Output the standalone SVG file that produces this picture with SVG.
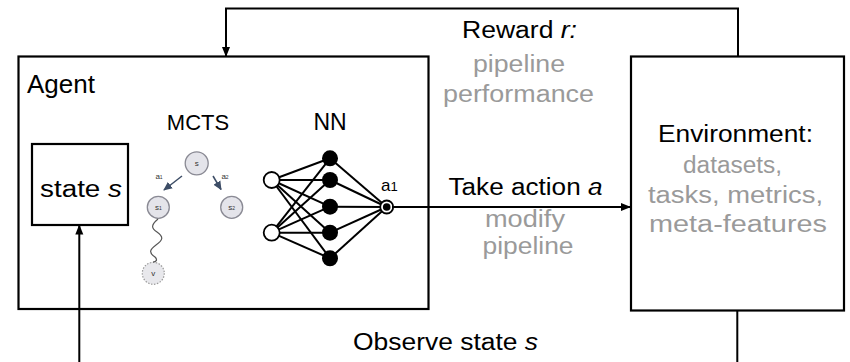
<svg xmlns="http://www.w3.org/2000/svg" width="850" height="362" viewBox="0 0 850 362">
<defs>
<marker id="arr" markerWidth="10" markerHeight="10" refX="9" refY="5" orient="auto" markerUnits="userSpaceOnUse">
<path d="M0,1 L10,5 L0,9 Z" fill="#000"/>
</marker>
<marker id="arrs" markerWidth="9" markerHeight="9" refX="8" refY="4.5" orient="auto" markerUnits="userSpaceOnUse">
<path d="M0,0.5 L9,4.5 L0,8.5 Z" fill="#3d4d66"/>
</marker>
<style>
text{font-family:"Liberation Sans",Arial,Helvetica,sans-serif;fill:#000}
.box{fill:#fff;stroke:#000;stroke-width:2.2}
.lbl{font-size:23px;text-anchor:middle}
.gray{fill:#9a9a9a}
.con{fill:none;stroke:#000;stroke-width:2}
.tn{fill:#e4e4ea;stroke:#8a8a94;stroke-width:1.3}
.tt{font-size:8px;text-anchor:middle;fill:#333}
.nnl{stroke:#000;stroke-width:2}
.hid{fill:#000}
.inp{fill:#fff;stroke:#000;stroke-width:1.8}
</style>
</defs>
<rect width="850" height="362" fill="#fff"/>

<g id="agent">
<rect class="box" x="18.5" y="56.5" width="410" height="252.5"/>
<text x="27" y="93" font-size="25" textLength="68" lengthAdjust="spacingAndGlyphs">Agent</text>
</g>

<g id="state">
<rect class="box" x="32" y="144" width="96" height="81" stroke-width="2.5"/>
<text class="lbl" x="81" y="197" textLength="82" lengthAdjust="spacingAndGlyphs">state <tspan font-style="italic">s</tspan></text>
</g>

<g id="mcts">
<text x="198" y="130" font-size="22" text-anchor="middle">MCTS</text>
<circle class="tn" cx="196.7" cy="163.3" r="11.5"/>
<text class="tt" x="196.7" y="166.3">s</text>
<circle class="tn" cx="158.3" cy="207.3" r="11"/>
<text class="tt" x="158.3" y="210.3">s<tspan font-size="5">1</tspan></text>
<circle class="tn" cx="231.7" cy="207.3" r="11"/>
<text class="tt" x="231.7" y="210.3">s<tspan font-size="5">2</tspan></text>
<circle cx="153.3" cy="273.3" r="11" fill="#e8e8ec" stroke="#9a9a9a" stroke-width="1.2" stroke-dasharray="1.5,1.5"/>
<text class="tt" x="153.3" y="276.3">v</text>
<line x1="182" y1="176" x2="164" y2="190" stroke="#3d4d66" stroke-width="1.5" marker-end="url(#arrs)"/>
<line x1="213" y1="176" x2="221" y2="189.5" stroke="#3d4d66" stroke-width="1.5" marker-end="url(#arrs)"/>
<text class="tt" x="159" y="179" font-size="7">a<tspan font-size="5">1</tspan></text>
<text class="tt" x="225" y="179" font-size="7">a<tspan font-size="5">2</tspan></text>
<path d="M158,219 C151,225 151,228 157,232 C164,237 163,240 156,245 C149,250 149,253 155,257 C158,260 156,262 153,262" fill="none" stroke="#555" stroke-width="1.2"/>
</g>

<g id="nn">
<text x="330" y="130" font-size="23" text-anchor="middle">NN</text>
<g class="nnl">
<line x1="271.7" y1="180" x2="330" y2="158.3"/>
<line x1="271.7" y1="180" x2="330" y2="180"/>
<line x1="271.7" y1="180" x2="330" y2="206.7"/>
<line x1="271.7" y1="180" x2="330" y2="232.7"/>
<line x1="271.7" y1="180" x2="330" y2="258.3"/>
<line x1="271.7" y1="232.7" x2="330" y2="158.3"/>
<line x1="271.7" y1="232.7" x2="330" y2="180"/>
<line x1="271.7" y1="232.7" x2="330" y2="206.7"/>
<line x1="271.7" y1="232.7" x2="330" y2="232.7"/>
<line x1="271.7" y1="232.7" x2="330" y2="258.3"/>
<line x1="330" y1="158.3" x2="386.7" y2="207"/>
<line x1="330" y1="180" x2="386.7" y2="207"/>
<line x1="330" y1="206.7" x2="386.7" y2="207"/>
<line x1="330" y1="232.7" x2="386.7" y2="207"/>
<line x1="330" y1="258.3" x2="386.7" y2="207"/>
</g>
<circle class="inp" cx="271.7" cy="180" r="8"/>
<circle class="inp" cx="271.7" cy="232.7" r="8"/>
<circle class="hid" cx="330" cy="158.3" r="8"/>
<circle class="hid" cx="330" cy="180" r="8"/>
<circle class="hid" cx="330" cy="206.7" r="8"/>
<circle class="hid" cx="330" cy="232.7" r="8"/>
<circle class="hid" cx="330" cy="258.3" r="8"/>
<circle cx="386.7" cy="207" r="6.5" fill="#fff" stroke="#000" stroke-width="1.8"/>
<circle cx="386.7" cy="207" r="3.8" fill="#000"/>
<text x="381" y="190.5" font-size="17" fill="#333">a<tspan font-size="13">1</tspan></text>
</g>

<g id="environment">
<rect class="box" x="631" y="56.5" width="213" height="254"/>
<text class="lbl" x="735.5" y="142.3" textLength="155" lengthAdjust="spacingAndGlyphs">Environment:</text>
<text class="lbl gray" x="732.5" y="173.3" textLength="99" lengthAdjust="spacingAndGlyphs">datasets,</text>
<text class="lbl gray" x="735.5" y="203" textLength="175" lengthAdjust="spacingAndGlyphs">tasks, metrics,</text>
<text class="lbl gray" x="738" y="231.7" textLength="178" lengthAdjust="spacingAndGlyphs">meta-features</text>
</g>

<g id="connectors">
<path class="con" d="M738,56.5 V8.5 H226 V56" marker-end="url(#arr)"/>
<line class="con" x1="392" y1="207" x2="630" y2="207" marker-end="url(#arr)"/>
<path class="con" d="M737.3,310.5 V372 H79.3 V225.5" marker-end="url(#arr)"/>
</g>

<g id="labels">
<text class="lbl" x="519.5" y="38" textLength="115" lengthAdjust="spacingAndGlyphs">Reward <tspan font-style="italic">r:</tspan></text>
<text class="lbl gray" x="519" y="72" textLength="92" lengthAdjust="spacingAndGlyphs">pipeline</text>
<text class="lbl gray" x="518.5" y="101.5" textLength="151" lengthAdjust="spacingAndGlyphs">performance</text>
<text class="lbl" x="525.5" y="195" textLength="154" lengthAdjust="spacingAndGlyphs">Take action <tspan font-style="italic">a</tspan></text>
<text class="lbl gray" x="525" y="226.5" font-size="22" textLength="80" lengthAdjust="spacingAndGlyphs">modify</text>
<text class="lbl gray" x="528" y="253.5" font-size="22" textLength="91" lengthAdjust="spacingAndGlyphs">pipeline</text>
<text class="lbl" x="445.5" y="349.5" textLength="185" lengthAdjust="spacingAndGlyphs">Observe state <tspan font-style="italic">s</tspan></text>
</g>
</svg>
